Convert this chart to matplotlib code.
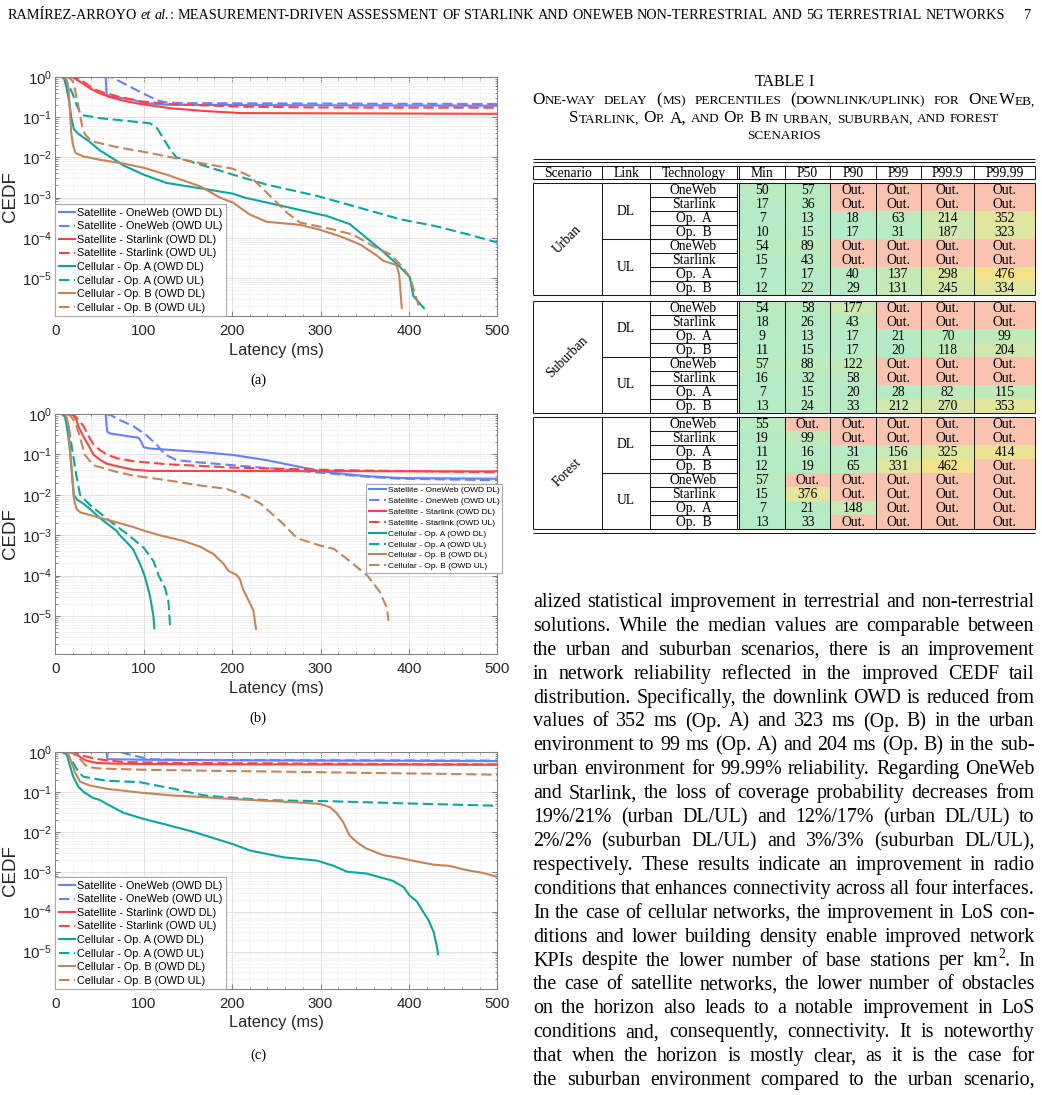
import numpy as np
import matplotlib
matplotlib.use("Agg")
import matplotlib.pyplot as plt
from matplotlib.patches import Rectangle
from matplotlib.ticker import LogLocator, MultipleLocator, NullFormatter

# ---------------- CEDF curves (latency ms, CEDF) ----------------
# (a) urban
urb_ow_dl_x = [50, 57, 58, 62, 73, 88, 96, 100, 130, 500]
urb_ow_dl_y = [1, 1, 0.36, 0.32, 0.30, 0.265, 0.24, 0.22, 0.2, 0.19]
urb_ow_ul_x = [54, 62, 66, 89, 115, 125, 150, 500]
urb_ow_ul_y = [1, 1, 0.92, 0.5, 0.26, 0.23, 0.22, 0.21]
urb_sl_dl_x = [17, 20, 25, 32, 40, 50, 60, 75, 96, 130, 170, 210, 500]
urb_sl_dl_y = [1, 0.97, 0.82, 0.66, 0.5, 0.39, 0.32, 0.26, 0.21, 0.165, 0.14, 0.125, 0.12]
urb_sl_ul_x = [15, 20, 26, 32, 43, 55, 69, 96, 130, 152, 210, 300, 500]
urb_sl_ul_y = [1, 0.98, 0.87, 0.75, 0.5, 0.4, 0.33, 0.245, 0.21, 0.2, 0.18, 0.172, 0.17]
urb_opa_dl_x = [7, 10, 13, 16, 18, 21, 25, 32, 39, 50, 63, 77, 100, 126, 164, 201, 214, 258, 277,
                307, 333, 352, 371, 390, 401, 405, 417]
urb_opa_dl_y = [1, 0.9, 0.5, 0.22, 0.1, 0.05, 0.04, 0.031, 0.024, 0.015, 0.01, 0.0063, 0.0037,
                0.0023, 0.0017, 0.00125, 0.001, 0.00061, 0.00049, 0.00035, 0.00022, 0.0001,
                4.5e-5, 1.9e-5, 1.05e-5, 3.6e-6, 1.8e-6]
urb_opa_ul_x = [7, 12, 17, 20, 24, 28, 32, 50, 88, 107, 115, 122, 130, 137, 164, 201, 239, 296,
                352, 390, 428, 465, 500]
urb_opa_ul_y = [1, 0.85, 0.5, 0.36, 0.2, 0.13, 0.11, 0.094, 0.077, 0.07, 0.053, 0.03, 0.0155,
                0.01, 0.0066, 0.0037, 0.0021, 0.0011, 0.0005, 0.00029, 0.0002, 0.000125, 7.7e-5]
urb_opb_dl_x = [10, 13, 15, 17, 18, 20, 23, 32, 50, 77, 100, 126, 164, 186, 201, 220, 239, 258,
                277, 299, 322, 345, 364, 371, 386, 389, 392]
urb_opb_dl_y = [1, 0.8, 0.5, 0.1, 0.04, 0.02, 0.0128, 0.0105, 0.0087, 0.007, 0.0055, 0.0037,
                0.0019, 0.001, 0.00075, 0.00038, 0.00025, 0.00023, 0.00021, 0.00016, 0.00011,
                6.8e-5, 3.6e-5, 2.7e-5, 2.1e-5, 1.2e-5, 1.8e-6]
urb_opb_ul_x = [12, 17, 20, 22, 25, 28, 31, 34, 41, 69, 107, 131, 164, 201, 220, 232, 243, 262,
                277, 315, 337, 359, 379, 390, 401, 411]
urb_opb_ul_y = [1, 0.9, 0.75, 0.5, 0.25, 0.11, 0.05, 0.036, 0.025, 0.018, 0.0128, 0.01, 0.0072,
                0.0052, 0.0034, 0.0019, 0.0011, 0.00042, 0.00024, 0.00016, 0.00012, 6.3e-5,
                3.9e-5, 2.2e-5, 1.1e-5, 2.1e-6]

# (b) suburban
sub_ow_dl_x = [54, 57, 58, 59, 62, 88, 94, 97, 100, 107, 164, 201, 239, 277, 299, 315, 352, 390, 500]
sub_ow_dl_y = [1, 1, 0.5, 0.36, 0.33, 0.27, 0.26, 0.21, 0.15, 0.14, 0.115, 0.097, 0.072, 0.049,
               0.039, 0.035, 0.029, 0.026, 0.025]
sub_ow_ul_x = [57, 62, 73, 88, 103, 115, 124, 137, 164, 201, 239, 277, 315, 352, 390, 500]
sub_ow_ul_y = [1, 0.95, 0.71, 0.5, 0.3, 0.17, 0.1, 0.072, 0.063, 0.054, 0.046, 0.039, 0.033,
               0.028, 0.025, 0.023]
sub_sl_dl_x = [18, 21, 24, 26, 32, 38, 43, 50, 58, 73, 88, 107, 500]
sub_sl_dl_y = [1, 0.9, 0.71, 0.5, 0.27, 0.16, 0.1, 0.075, 0.059, 0.049, 0.042, 0.039, 0.038]
sub_sl_ul_x = [16, 22, 28, 32, 37, 43, 50, 58, 70, 88, 126, 164, 201, 239, 315, 500]
sub_sl_ul_y = [1, 0.9, 0.64, 0.5, 0.3, 0.18, 0.13, 0.1, 0.08, 0.068, 0.057, 0.052, 0.047, 0.045,
               0.041, 0.036]
sub_opa_dl_x = [9, 11, 13, 15, 17, 19, 21, 25, 32, 39, 50, 62, 69, 73, 80, 88, 96, 101, 107, 111, 112]
sub_opa_dl_y = [1, 0.85, 0.5, 0.25, 0.1, 0.03, 0.01, 0.0075, 0.006, 0.0045, 0.0027, 0.0017,
                0.0013, 0.001, 0.0007, 0.00045, 0.00019, 0.0001, 3.2e-5, 1e-5, 5e-6]
sub_opa_ul_x = [7, 11, 15, 18, 20, 24, 28, 39, 58, 83, 100, 111, 117, 124, 128, 130]
sub_opa_ul_y = [1, 0.85, 0.5, 0.19, 0.1, 0.028, 0.01, 0.0057, 0.0026, 0.001, 0.00049, 0.00023,
                0.0001, 5e-5, 2.3e-5, 5e-6]
sub_opb_dl_x = [11, 13, 15, 17, 19, 21, 24, 28, 50, 69, 88, 100, 118, 145, 164, 179, 190, 196,
                205, 209, 212, 218, 224, 227]
sub_opb_dl_y = [1, 0.8, 0.5, 0.1, 0.03, 0.008, 0.0045, 0.0037, 0.0027, 0.0021, 0.0016, 0.0013,
                0.001, 0.00072, 0.00052, 0.00034, 0.0002, 0.00013, 0.000105, 8e-5, 4.8e-5,
                2.6e-5, 1.4e-5, 4.8e-6]
sub_opb_ul_x = [13, 17, 20, 24, 28, 33, 43, 69, 88, 126, 164, 194, 216, 232, 258, 270, 277, 299,
                315, 333, 353, 367, 375, 377]
sub_opb_ul_y = [1, 0.9, 0.75, 0.5, 0.27, 0.1, 0.054, 0.037, 0.03, 0.023, 0.017, 0.014, 0.0093,
                0.0061, 0.0019, 0.001, 0.0008, 0.00056, 0.00046, 0.00023, 0.0001, 4e-5, 1.6e-5,
                7.5e-6]

# (c) forest
for_ow_dl_x = [55, 58, 59, 100, 200, 500]
for_ow_dl_y = [1, 1, 0.66, 0.64, 0.62, 0.59]
for_ow_ul_x = [57, 73, 90, 107, 150, 500]
for_ow_ul_y = [1, 1, 0.8, 0.66, 0.63, 0.61]
for_sl_dl_x = [19, 22, 26, 32, 36, 47, 70, 99, 200, 500]
for_sl_dl_y = [1, 0.95, 0.8, 0.66, 0.6, 0.53, 0.51, 0.5, 0.49, 0.48]
for_sl_ul_x = [15, 22, 32, 45, 58, 77, 150, 250, 376, 500]
for_sl_ul_y = [1, 0.97, 0.8, 0.68, 0.62, 0.56, 0.53, 0.52, 0.5, 0.49]
for_opa_dl_x = [11, 13, 16, 20, 26, 32, 43, 50, 62, 77, 100, 126, 156, 201, 220, 239, 258, 296,
                315, 330, 352, 371, 382, 394, 401, 409, 416, 422, 428, 432, 433]
for_opa_dl_y = [1, 0.85, 0.5, 0.25, 0.135, 0.1, 0.07, 0.063, 0.045, 0.03, 0.021, 0.015, 0.01,
                0.0049, 0.0034, 0.0028, 0.0023, 0.0019, 0.0014, 0.001, 0.0009, 0.00069, 0.00059,
                0.00041, 0.00025, 0.00018, 0.0001, 6.2e-5, 3.1e-5, 1.2e-5, 8.6e-6]
for_opa_ul_x = [7, 12, 17, 21, 24, 30, 32, 58, 96, 118, 134, 149, 171, 239, 315, 390, 500]
for_opa_ul_y = [1, 0.9, 0.7, 0.5, 0.38, 0.26, 0.24, 0.19, 0.175, 0.14, 0.12, 0.1, 0.08, 0.062,
                0.058, 0.052, 0.045]
for_opb_dl_x = [12, 15, 19, 22, 28, 39, 58, 96, 134, 164, 201, 239, 277, 299, 311, 318, 326, 333,
                341, 352, 371, 390, 409, 428, 446, 465, 484, 500]
for_opb_dl_y = [1, 0.85, 0.5, 0.32, 0.18, 0.145, 0.12, 0.096, 0.081, 0.075, 0.066, 0.06, 0.054,
                0.05, 0.041, 0.03, 0.017, 0.008, 0.0055, 0.0038, 0.0026, 0.0022, 0.0018, 0.0015,
                0.0014, 0.0011, 0.00093, 0.00074]
for_opb_ul_x = [13, 20, 25, 30, 33, 36, 47, 96, 171, 265, 350, 430, 500]
for_opb_ul_y = [1, 0.93, 0.75, 0.6, 0.5, 0.43, 0.39, 0.36, 0.34, 0.32, 0.3, 0.285, 0.27]

series_labels = ['Satellite - OneWeb (OWD DL)', 'Satellite - OneWeb (OWD UL)',
                 'Satellite - Starlink (OWD DL)', 'Satellite - Starlink (OWD UL)',
                 'Cellular - Op. A (OWD DL)', 'Cellular - Op. A (OWD UL)',
                 'Cellular - Op. B (OWD DL)', 'Cellular - Op. B (OWD UL)']
series_colors = ['#6680ff', '#6680ff', '#ff4343', '#ff4343', '#0aa6a0', '#0aa6a0', '#c78457', '#c78457']
series_dashed = [False, True, False, True, False, True, False, True]
x_ticks = [0, 100, 200, 300, 400, 500]
y_ticks = [1e-5, 1e-4, 1e-3, 1e-2, 1e-1, 1e0]

# ---------------- Table I ----------------
tab_header = ['Scenario', 'Link', 'Technology', 'Min', 'P50', 'P90', 'P99', 'P99.9', 'P99.99']
tab_scenarios = ['Urban', 'Suburban', 'Forest']
tab_links = ['DL', 'UL']
tab_techs = ['OneWeb', 'Starlink', 'Op.  A', 'Op.  B']
urban_vals = [[50, 57, None, None, None, None], [17, 36, None, None, None, None],
              [7, 13, 18, 63, 214, 352], [10, 15, 17, 31, 187, 323],
              [54, 89, None, None, None, None], [15, 43, None, None, None, None],
              [7, 17, 40, 137, 298, 476], [12, 22, 29, 131, 245, 334]]
suburban_vals = [[54, 58, 177, None, None, None], [18, 26, 43, None, None, None],
                 [9, 13, 17, 21, 70, 99], [11, 15, 17, 20, 118, 204],
                 [57, 88, 122, None, None, None], [16, 32, 58, None, None, None],
                 [7, 15, 20, 28, 82, 115], [13, 24, 33, 212, 270, 353]]
forest_vals = [[55, None, None, None, None, None], [19, 99, None, None, None, None],
               [11, 16, 31, 156, 325, 414], [12, 19, 65, 331, 462, None],
               [57, None, None, None, None, None], [15, 376, None, None, None, None],
               [7, 21, 148, None, None, None], [13, 33, None, None, None, None]]

caption_lines = ["One-way delay (ms) percentiles (downlink/uplink) for OneWeb,",
                 "Starlink, Op. A, and Op. B in urban, suburban, and forest",
                 "scenarios"]

body_lines = [
    "alized statistical improvement in terrestrial and non-terrestrial",
    "solutions. While the median values are comparable between",
    "the urban and suburban scenarios, there is an improvement",
    "in network reliability reflected in the improved CEDF tail",
    "distribution. Specifically, the downlink OWD is reduced from",
    "values of 352 ms (Op. A) and 323 ms (Op. B) in the urban",
    "environment to 99 ms (Op. A) and 204 ms (Op. B) in the sub-",
    "urban environment for 99.99% reliability. Regarding OneWeb",
    "and Starlink, the loss of coverage probability decreases from",
    "19%/21% (urban DL/UL) and 12%/17% (urban DL/UL) to",
    "2%/2% (suburban DL/UL) and 3%/3% (suburban DL/UL),",
    "respectively. These results indicate an improvement in radio",
    "conditions that enhances connectivity across all four interfaces.",
    "In the case of cellular networks, the improvement in LoS con-",
    "ditions and lower building density enable improved network",
    "KPIs despite the lower number of base stations per km^2. In",
    "the case of satellite networks, the lower number of obstacles",
    "on the horizon also leads to a notable improvement in LoS",
    "conditions and, consequently, connectivity. It is noteworthy",
    "that when the horizon is mostly clear, as it is the case for",
    "the suburban environment compared to the urban scenario,",
]

W, H = 1042, 1095
SERIF = 'Liberation Serif'
plt.rcParams['font.family'] = ['Liberation Sans', 'DejaVu Sans']

fig = plt.figure(figsize=(W / 100, H / 100), dpi=100)
over = fig.add_axes([0, 0, 1, 1])
over.set_xlim(0, W)
over.set_ylim(H, 0)
over.set_autoscale_on(False)
over.axis('off')
renderer = fig.canvas.get_renderer()

_wcache = {}


def text_w(s, size, style='normal', family=SERIF):
    key = (s, size, style, family)
    if key not in _wcache:
        t1 = over.text(0, 0, '|' + s + '|', fontsize=size, style=style, family=family)
        t2 = over.text(0, 0, '||', fontsize=size, style=style, family=family)
        _wcache[key] = t1.get_window_extent(renderer).width - t2.get_window_extent(renderer).width
        t1.remove()
        t2.remove()
    return _wcache[key]


def draw_words(words, y, x0, x1, align='justify', family=SERIF, space_size=None):
    widths = [sum(text_w(r[0], r[1], r[2], family) for r in wd) for wd in words]
    size = space_size or words[0][0][1]
    space = text_w(' ', size, 'normal', family)
    total = sum(widths)
    if align == 'justify' and len(words) > 1:
        gap = (x1 - x0 - total) / (len(words) - 1)
        x = x0
    elif align == 'center':
        gap = space
        x = (x0 + x1) / 2 - (total + gap * (len(words) - 1)) / 2
    else:
        gap = space
        x = x0
    for wd, w in zip(words, widths):
        xx = x
        for s, sz, st, dy in wd:
            over.text(xx, y + dy, s, fontsize=sz, style=st, family=family, ha='left', va='baseline')
            xx += text_w(s, sz, st, family)
        x += w + gap


def smallcaps_word(word, big, small):
    # letters switch between big capitals and small capitals; other signs follow the current run
    runs, cur, cur_small = [], '', False
    for ch in word:
        if ch.isalpha():
            is_small = ch.islower()
            if cur and is_small != cur_small:
                runs.append((cur, small if cur_small else big, 'normal', 0))
                cur = ''
            cur_small = is_small
        cur += ch.upper()
    if cur:
        runs.append((cur, small if cur_small else big, 'normal', 0))
    return runs


# ---------------- running header ----------------
head_rest = ("MEASUREMENT-DRIVEN ASSESSMENT OF STARLINK AND ONEWEB NON-TERRESTRIAL "
             "AND 5G TERRESTRIAL NETWORKS").split()


def header_words(sz):
    return ([[('RAMÍREZ-ARROYO', sz, 'normal', 0)], [('et', sz, 'italic', 0)],
             [('al.', sz, 'italic', 0), (':', sz, 'normal', 0)]] +
            [[(w, sz, 'normal', 0)] for w in head_rest])


hw = header_words(8.4)
nat = sum(sum(text_w(r[0], r[1], r[2]) for r in wd) for wd in hw) + text_w(' ', 8.4) * (len(hw) - 1)
hsz = 8.4 * (987 / nat)
draw_words(header_words(hsz), 19.3, 8, 995, align='left')
over.text(1031, 19.3, '7', fontsize=hsz, family=SERIF, ha='right', va='baseline')

# ---------------- table caption ----------------
CAP_BIG, CAP_SMALL = 12.3, 9.5
draw_words([[('TABLE', 11.5, 'normal', 0)], [('I', 11.5, 'normal', 0)]], 86, 533, 1035, align='center')
draw_words([smallcaps_word(w, CAP_BIG, CAP_SMALL) for w in caption_lines[0].split()],
           104.3, 532, 1035, 'justify')
draw_words([smallcaps_word(w, CAP_BIG, CAP_SMALL) for w in caption_lines[1].split()],
           122.3, 533, 1035, 'center', space_size=CAP_BIG)
draw_words([smallcaps_word(w, CAP_BIG, CAP_SMALL) for w in caption_lines[2].split()],
           139.3, 533, 1035, 'center')

# ---------------- table ----------------
tcol, tlw, tfs = '#1a1a1a', 0.75, 9.8
col_edges = [533, 602.3, 650, 737, 739.3, 785, 830.3, 875.7, 921, 974.3, 1035]
num_edges = col_edges[4:]
green = np.array([0.70, 0.925, 0.78])
yellow = np.array([0.965, 0.885, 0.53])
out_col = (0.975, 0.765, 0.69)


def cell_color(v):
    if v is None:
        return out_col
    t = min(v / 500.0, 1.0)
    return tuple(green + (yellow - green) * t)


def hline(y, x0, x1, lw=tlw):
    over.plot([x0, x1], [y, y], color=tcol, lw=lw, solid_capstyle='butt')


def vline(x, y0, y1, lw=tlw):
    over.plot([x, x], [y0, y1], color=tcol, lw=lw, solid_capstyle='butt')


hline(159.3, 533, 1035)
hline(161.7, 533, 1035)
h_top, h_bot = 166, 179.3
hline(h_top, 533, 1035)
hline(h_bot, 533, 1035)
for x in col_edges:
    vline(x, h_top, h_bot)
head_centers = [(col_edges[0] + col_edges[1]) / 2, (col_edges[1] + col_edges[2]) / 2,
                (col_edges[2] + col_edges[3]) / 2] + \
               [(num_edges[i] + num_edges[i + 1]) / 2 for i in range(6)]
for cx, lab in zip(head_centers, tab_header):
    over.text(cx, (h_top + h_bot) / 2 + 0.5, lab, fontsize=tfs, family=SERIF, ha='center', va='center')

block_tops = [183.3, 300.7, 416.7]
rh = 14.0
for top, scen, vals in zip(block_tops, tab_scenarios, [urban_vals, suburban_vals, forest_vals]):
    bot = top + 8 * rh
    for r, row in enumerate(vals):
        ry = top + r * rh
        for c, v in enumerate(row):
            over.add_patch(Rectangle((num_edges[c], ry), num_edges[c + 1] - num_edges[c], rh,
                                     facecolor=cell_color(v), edgecolor='none', zorder=1))
            over.text(head_centers[3 + c], ry + rh / 2 + 0.5, 'Out.' if v is None else str(v),
                      fontsize=tfs, family=SERIF, ha='center', va='center', zorder=3)
        over.text(head_centers[2], ry + rh / 2 + 0.5, tab_techs[r % 4], fontsize=tfs, family=SERIF,
                  ha='center', va='center', zorder=3)
        if r > 0:
            hline(ry, col_edges[2], col_edges[3])
    hline(top + 4 * rh, col_edges[1], col_edges[3])
    for k, lk in enumerate(tab_links):
        over.text(head_centers[1], top + (2 + 4 * k) * rh, lk, fontsize=tfs, family=SERIF,
                  ha='center', va='center', zorder=3)
    over.text(head_centers[0], (top + bot) / 2, scen, fontsize=tfs, family=SERIF, rotation=45,
              rotation_mode='anchor', ha='center', va='center', zorder=3)
    hline(top, 533, 1035)
    hline(bot, 533, 1035)
    for x in col_edges:
        vline(x, top, bot)
hline(533.3, 533, 1035)

# ---------------- body text ----------------
BODY = 14.4


def body_word(w):
    if w == 'km^2.':
        return [('km', BODY, 'normal', 0), ('2', BODY * 0.68, 'normal', -7.5), ('.', BODY, 'normal', 0)]
    return [(w, BODY, 'normal', 0)]


for i, line in enumerate(body_lines):
    draw_words([body_word(w) for w in line.split()], 607 + i * 23.9, 533, 1034.5, 'justify')

# ---------------- CEDF panels ----------------
panels = [
    (76.7, 316.0, [(urb_ow_dl_x, urb_ow_dl_y), (urb_ow_ul_x, urb_ow_ul_y), (urb_sl_dl_x, urb_sl_dl_y),
                   (urb_sl_ul_x, urb_sl_ul_y), (urb_opa_dl_x, urb_opa_dl_y), (urb_opa_ul_x, urb_opa_ul_y),
                   (urb_opb_dl_x, urb_opb_dl_y), (urb_opb_ul_x, urb_opb_ul_y)], '(a)', 384),
    (414.0, 654.0, [(sub_ow_dl_x, sub_ow_dl_y), (sub_ow_ul_x, sub_ow_ul_y), (sub_sl_dl_x, sub_sl_dl_y),
                    (sub_sl_ul_x, sub_sl_ul_y), (sub_opa_dl_x, sub_opa_dl_y), (sub_opa_ul_x, sub_opa_ul_y),
                    (sub_opb_dl_x, sub_opb_dl_y), (sub_opb_ul_x, sub_opb_ul_y)], '(b)', 722),
    (752.0, 989.0, [(for_ow_dl_x, for_ow_dl_y), (for_ow_ul_x, for_ow_ul_y), (for_sl_dl_x, for_sl_dl_y),
                    (for_sl_ul_x, for_sl_ul_y), (for_opa_dl_x, for_opa_dl_y), (for_opa_ul_x, for_opa_ul_y),
                    (for_opb_dl_x, for_opb_dl_y), (for_opb_ul_x, for_opb_ul_y)], '(c)', 1059),
]

for k, (top, bot, series, cap, cap_y) in enumerate(panels):
    ax = fig.add_axes([55.3 / W, 1 - bot / H, 442 / W, (bot - top) / H])
    for (xs, ys), col, dashed, lab in zip(series, series_colors, series_dashed, series_labels):
        ln, = ax.plot(xs, ys, color=col, lw=1.5, label=lab)
        if dashed:
            ln.set_dashes([5, 2.2])
    ax.set_yscale('log')
    ax.set_xlim(0, 500)
    ax.set_ylim(1.15e-6, 1)
    ax.set_xticks(x_ticks)
    ax.xaxis.set_minor_locator(MultipleLocator(20))
    ax.set_yticks(y_ticks)
    ax.yaxis.set_minor_locator(LogLocator(base=10, subs=np.arange(2, 10), numticks=20))
    ax.yaxis.set_minor_formatter(NullFormatter())
    ax.grid(which='major', color='#dcdcdc', lw=0.6)
    ax.grid(which='minor', color='#f0f0f0', lw=0.5)
    ax.set_axisbelow(True)
    ax.tick_params(which='both', direction='in', top=True, right=True, color='#808080',
                   labelsize=10.8, labelcolor='#262626')
    ax.tick_params(which='major', length=3.5)
    ax.tick_params(which='minor', length=1.8)
    ax.tick_params(axis='x', pad=6)
    ax.tick_params(axis='y', pad=2)
    for sp in ax.spines.values():
        sp.set_color('#808080')
        sp.set_linewidth(0.75)
    ax.set_xlabel('Latency (ms)', fontsize=11.8, labelpad=3, color='#262626')
    ax.set_ylabel('CEDF', fontsize=13.5, labelpad=2, color='#262626')
    if k == 1:
        leg = ax.legend(loc='upper right', bbox_to_anchor=(1.011, 0.708), borderaxespad=0,
                        fontsize=6.0, handlelength=2.1, handletextpad=0.2, labelspacing=0.36,
                        borderpad=0.3, fancybox=False, edgecolor='#a8a8a8', framealpha=1)
    else:
        leg = ax.legend(loc='lower left', bbox_to_anchor=(0, 0), borderaxespad=0,
                        fontsize=7.8, handlelength=1.55, handletextpad=0.15, labelspacing=0.33,
                        borderpad=0.3, fancybox=False, edgecolor='#a8a8a8', framealpha=1)
    leg.get_frame().set_linewidth(0.8)
    over.text(258, cap_y, cap, fontsize=10.5, family=SERIF, ha='center', va='baseline')

fig.savefig('out.png', dpi=100)
